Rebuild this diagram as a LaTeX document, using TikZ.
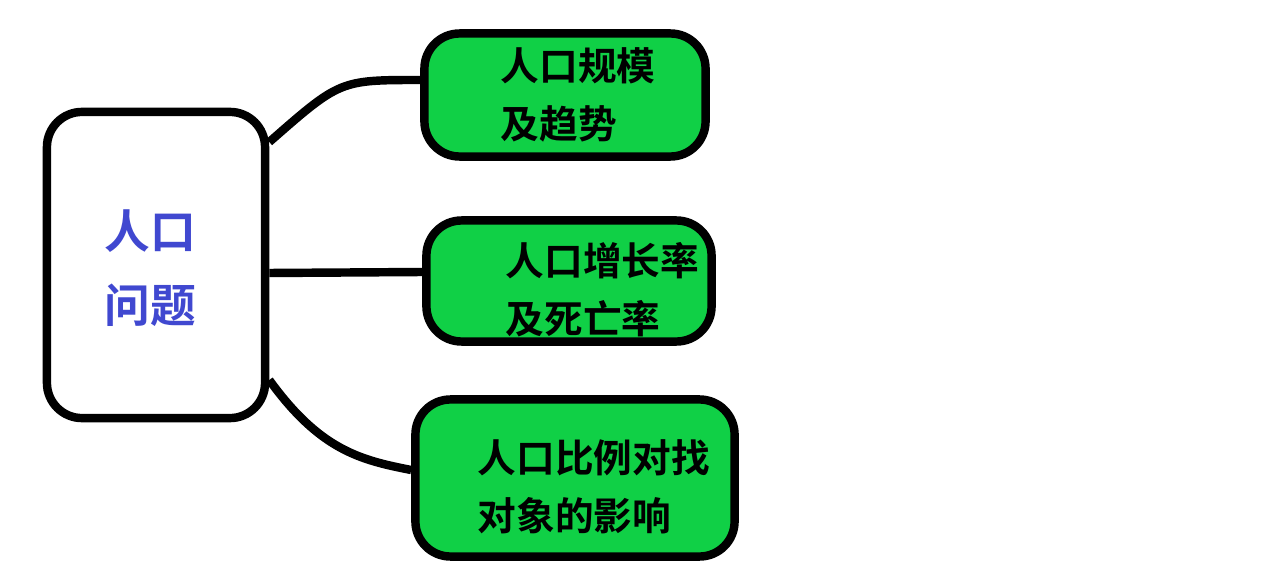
\documentclass[tikz,border=0pt]{standalone}
\usepackage{fontspec}
\newfontfamily\cjk{Noto Sans CJK SC Bold}
\begin{document}
\begin{tikzpicture}[x=0.01cm,y=-0.01cm,
  topic/.style={draw=black,line width=2.4pt,rounded corners=10pt,fill=white},
  sub/.style={draw=black,line width=2.4pt,rounded corners=10pt,fill=green!70!black!60!green,fill={rgb,255:red,16;green,208;blue,70}},
  lbl/.style={font=\cjk\fontsize{11pt}{16.5pt}\selectfont,align=left,anchor=west,inner sep=0pt},
  link/.style={line width=2.4pt}]
\useasboundingbox (0,0) rectangle (1284,588);
\node[topic,minimum width=2.18cm,minimum height=3.06cm] (root) at (156,265) {};
\node[font=\cjk\fontsize{13pt}{21pt}\selectfont,align=center,text={rgb,255:red,64;green,72;blue,208}] (roottext) at (150,268) {人口\\问题};
\node[sub,minimum width=2.81cm,minimum height=1.23cm] (a) at (565,95) {};
\node[sub,minimum width=2.85cm,minimum height=1.21cm] (b) at (569,281) {};
\node[sub,minimum width=3.19cm,minimum height=1.57cm] (c) at (575,478) {};
\node[lbl] (at) at (500,95) {人口规模\\及趋势};
\node[lbl] (bt) at (505,290) {人口增长率\\及死亡率};
\node[lbl] (ct) at (477,487) {人口比例对找\\对象的影响};
\draw[link] (root.east|-0,142) .. controls (340,80) .. (a.west|-0,80);
\draw[link] (root.east|-0,273) -- (b.west|-0,272);
\draw[link] (root.east|-0,380) .. controls (320,450) and (360,460) .. (c.west|-0,470);
\end{tikzpicture}
\end{document}
